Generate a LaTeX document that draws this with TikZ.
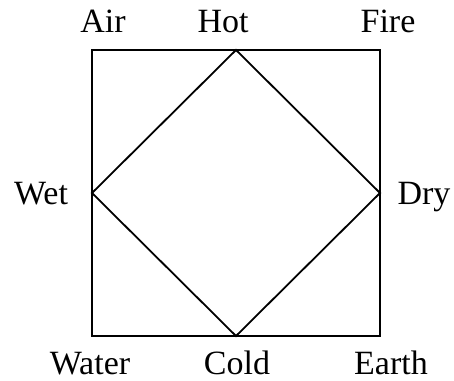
\documentclass[tikz,border=0pt]{standalone}
\usepackage{fontspec}
\setmainfont{Liberation Serif}
\begin{document}
\begin{tikzpicture}[x=1pt,y=1pt,
  lbl/.style={anchor=base,inner sep=0pt,font=\fontsize{34}{40}\selectfont},
  edge/.style={line width=1.8pt,line join=miter}]
\useasboundingbox (0,0) rectangle (454,380);
\coordinate (tl) at (92,330);
\coordinate (tr) at (380,330);
\coordinate (br) at (380,44);
\coordinate (bl) at (92,44);
\coordinate (top) at (236,330);
\coordinate (rt) at (380,187);
\coordinate (bot) at (236,44);
\coordinate (lt) at (92,187);
\draw[edge] (tl) -- (tr) -- (br) -- (bl) -- cycle;
\draw[edge] (top) -- (rt) -- (bot) -- (lt) -- cycle;
\node[lbl] (air) at (103,347) {Air};
\node[lbl] (hot) at (223,347) {Hot};
\node[lbl] (fire) at (388,347) {Fire};
\node[lbl] (wet) at (41,175) {Wet};
\node[lbl] (dry) at (424,175) {Dry};
\node[lbl] (water) at (90,6) {Water};
\node[lbl] (cold) at (237,6) {Cold};
\node[lbl] (earth) at (391,6) {Earth};
\end{tikzpicture}
\end{document}
